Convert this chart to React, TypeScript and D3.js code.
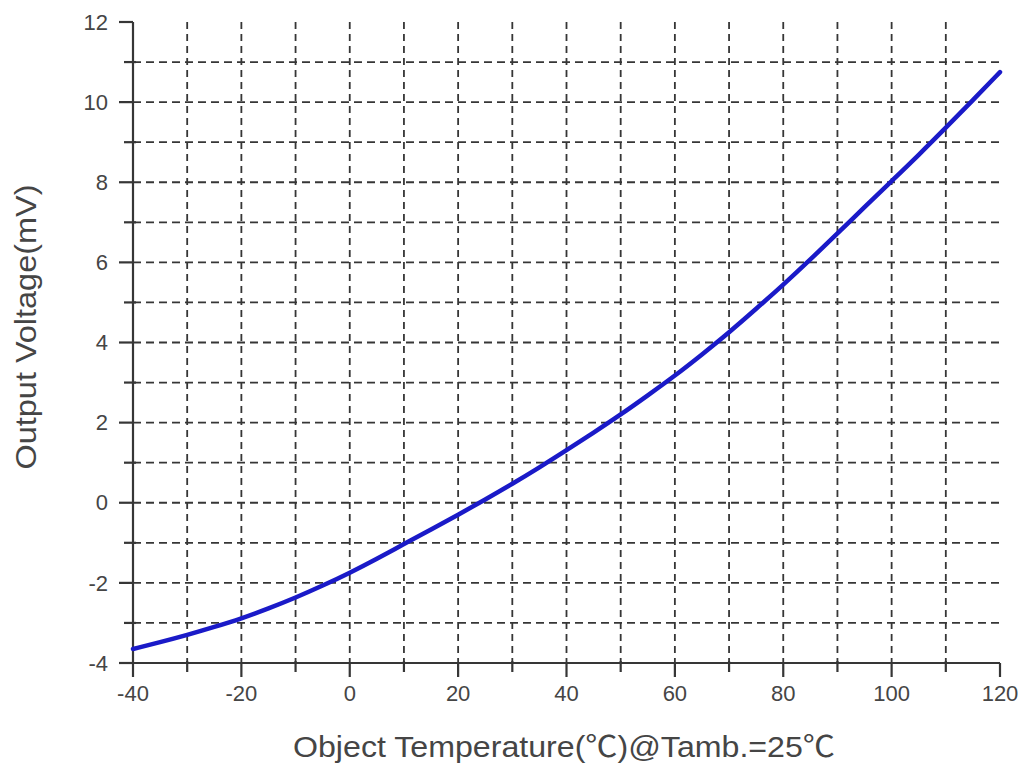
import React from "react";
import * as d3 from "d3";

const temps = [-40, -35, -30, -25, -20, -15, -10, -5, 0, 5, 10, 15, 20, 25, 30, 35, 40, 45, 50, 55, 60, 65, 70, 75, 80, 85, 90, 95, 100, 105, 110, 115, 120];
const voltages = [-3.65, -3.48, -3.3, -3.1, -2.89, -2.64, -2.37, -2.07, -1.75, -1.4, -1.03, -0.67, -0.3, 0.08, 0.47, 0.88, 1.31, 1.75, 2.2, 2.68, 3.17, 3.7, 4.25, 4.84, 5.44, 6.07, 6.72, 7.38, 8.03, 8.68, 9.36, 10.05, 10.75];
const xMajorTicks = [-40, -20, 0, 20, 40, 60, 80, 100, 120];
const xMinorTicks = [-30, -10, 10, 30, 50, 70, 90, 110];
const yMajorTicks = [-4, -2, 0, 2, 4, 6, 8, 10, 12];
const yMinorTicks = [-3, -1, 1, 3, 5, 7, 9, 11];
const xGrid = [-30, -20, -10, 0, 10, 20, 30, 40, 50, 60, 70, 80, 90, 100, 110];
const yGrid = [-3, -2, -1, 0, 1, 2, 3, 4, 5, 6, 7, 8, 9, 10, 11];
const xTitle = "Object Temperature(℃)@Tamb.=25℃";
const yTitle = "Output Voltage(mV)";

export default function App() {
  const x = d3.scaleLinear().domain([-40, 120]).range([133, 1000]);
  const y = d3.scaleLinear().domain([-4, 12]).range([663, 22]);
  const pts = temps.map((t, i) => [t, voltages[i]] as [number, number]);
  const line = d3
    .line<[number, number]>()
    .x((d) => x(d[0]))
    .y((d) => y(d[1]))
    .curve(d3.curveBasis);
  const font = "'Liberation Sans', Arial, 'Noto Sans CJK SC', sans-serif";
  const axisColor = "#363636";
  const gridColor = "#363636";
  const textColor = "#454545";
  return (
    <svg
      width={1026}
      height={767}
      style={{ position: "absolute", left: 0, top: 0, background: "#fff" }}
      fontFamily={font}
    >
      <rect x={0} y={0} width={1026} height={767} fill="#fff" />
      {xGrid.map((v) => (
        <line key={"xg" + v} x1={x(v)} x2={x(v)} y1={y(12)} y2={y(-4)} stroke={gridColor} strokeWidth={1.8} strokeDasharray="7,5" />
      ))}
      {yGrid.map((v) => (
        <line key={"yg" + v} x1={x(-40)} x2={x(120)} y1={y(v)} y2={y(v)} stroke={gridColor} strokeWidth={1.8} strokeDasharray="8,5" />
      ))}
      <line x1={x(-40)} x2={x(120)} y1={y(-4)} y2={y(-4)} stroke={axisColor} strokeWidth={2.2} />
      <line x1={x(-40)} x2={x(-40)} y1={y(12)} y2={y(-4)} stroke={axisColor} strokeWidth={2.2} />
      {xMajorTicks.map((v) => (
        <g key={"xt" + v}>
          <line x1={x(v)} x2={x(v)} y1={y(-4)} y2={y(-4) + 14} stroke={axisColor} strokeWidth={2.2} />
          <text x={x(v)} y={701} textAnchor="middle" fontSize={22} fill={textColor}>
            {v}
          </text>
        </g>
      ))}
      {xMinorTicks.map((v) => (
        <line key={"xm" + v} x1={x(v)} x2={x(v)} y1={y(-4) - 2} y2={y(-4) + 9} stroke={axisColor} strokeWidth={2.2} />
      ))}
      {yMajorTicks.map((v) => (
        <g key={"yt" + v}>
          <line x1={x(-40) - 14} x2={x(-40)} y1={y(v)} y2={y(v)} stroke={axisColor} strokeWidth={2.2} />
          <text x={108} y={y(v)} dy="0.35em" textAnchor="end" fontSize={22} fill={textColor}>
            {v}
          </text>
        </g>
      ))}
      {yMinorTicks.map((v) => (
        <line key={"ym" + v} x1={x(-40) - 9} x2={x(-40) + 3} y1={y(v)} y2={y(v)} stroke={axisColor} strokeWidth={2.2} />
      ))}
      <path d={line(pts) || ""} fill="none" stroke="#1a1ac8" strokeWidth={4.5} strokeLinejoin="round" strokeLinecap="round" />
      <text x={564} y={757} textAnchor="middle" fontSize={29} fill={textColor} textLength={542} lengthAdjust="spacingAndGlyphs">
        {xTitle}
      </text>
      <text transform="translate(36,327) rotate(-90)" textAnchor="middle" fontSize={29} fill={textColor} textLength={285} lengthAdjust="spacingAndGlyphs">
        {yTitle}
      </text>
    </svg>
  );
}
